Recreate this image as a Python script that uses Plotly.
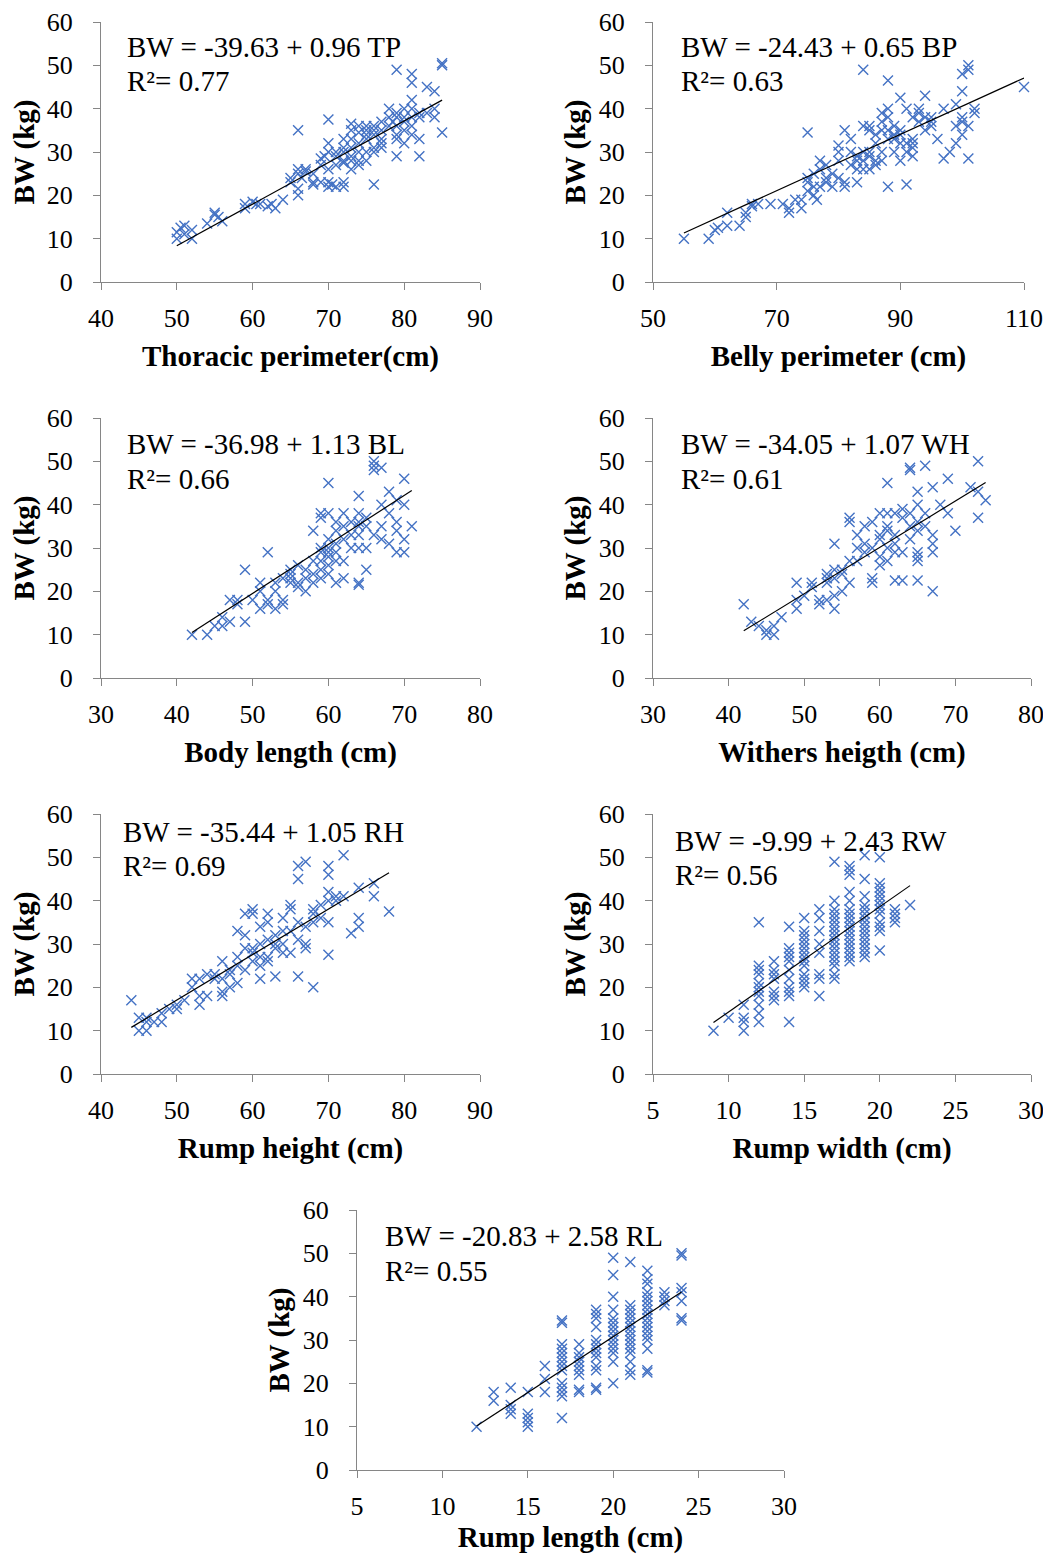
import plotly.graph_objects as go

# ---------------- data ----------------
tp_points = [(50,10),(50,11.5),(50.5,12.5),(51,13),(51,11),(52,12),(52,10),(54,13.5),(55,16),(55,15.5),(55.5,15),(56,14),
    (59,17),(59,18),(60,18.5),(60.5,18),(61,18),(62,17.5),(62.5,18),(63,17),(64,19),(65,23),(65,24),(66,20),(66,21.5),(66,25),
    (66,26),(66,35),(66.5,24),(67,25.5),(67,26),(68,22.5),(68,23),(68,25),(69,23),(69,27),(69,28.5),(69.5,29),(70,22),(70,23),
    (70,26),(70,30),(70,32),(70,37.5),(70.5,22.5),(71,22),(71,27),(71,29),(71,30),(72,22),(72,23),(72,27.5),(72,28),(72,30),
    (72,31),(72,33),(73,26),(73,28),(73,29),(73,31),(73,33),(73,35),(73,36.5),(74,27),(74,28),(74,30),(74,32),(74,34.5),(74,36),
    (75,28),(75,30),(75,33),(75,34),(75,35),(75,36),(76,22.5),(76,30),(76,31),(76,34),(76,35),(76,36),(77,31),(77,32),(77,33),
    (77,35),(77,37),(78,36),(78,38),(78,40),(78.5,37),(79,29),(79,33),(79,34),(79,36),(79,38),(79,39),(79,49),(80,32),(80,35),
    (80,37),(80,38),(80,40),(81,34),(81,36),(81,38),(81,40),(81,42),(81,46),(81,48),(82,29),(82,33),(82,38),(82,39),(83,39),
    (83,45),(84,38),(84,40),(84,44),(85,34.5),(85,50),(85,50.5)]

bp_points = [(55,10),(59,10),(60,12),(60.5,12.5),(62,16),(62,13),(64,13),(65,15),(65,16),(66,18),(66,17.5),(67,18),(69,18),
    (71,18),(72,17),(72,16),(73,19),(74,17),(74,19),(75,21),(75,23),(75,24),(75,34.5),(76,20),(76,22),(76,25),(76.5,19),(77,26),
    (77,22),(77,28),(78,23),(78,27),(78,24),(79,22),(79,25),(80,24),(80,28),(80,30),(80,31.5),(81,23),(81,22),(81,35),(82,30),
    (82,33),(82,27),(83,26),(83,23),(83,28),(83,29),(84,26),(84,28),(84,30),(84,36),(84,49),(85,26),(85,29),(85,30),(85,36),
    (85,35),(86,28),(86,32),(86,34),(86,27),(87,28),(87,30),(87,35),(87,37),(87,39),(88,22),(88,33),(88,35),(88,38),(88,40),
    (88,46.5),(89,30),(89,33),(89,36),(89,34),(90,28),(90,32),(90,35),(90,34),(90,42.5),(91,40),(91,22.5),(91,30),(91,32),(92,31),
    (92,32),(92,33),(92,38),(92,29),(93,37),(93,39),(93,40),(94,38),(94,35),(94,43),(95,36),(95,38),(95,37),(96,33),(97,40),
    (97,28.5),(98,30),(99,32),(99,36),(99,41),(100,37),(100,38),(100,44),(100,48),(100,34),(101,28.5),(101,50),(101,49),
    (101,36),(102,39),(102,40),(110,45)]

bl_points = [(42,10),(44,10),(45,12),(46,12),(46,14),(47,13),(47,18),(48,18),(48,17),(49,25),(49,13),(50,18),(51,16),(51,22),
    (51,20),(52,18),(52,17),(52,29),(53,16),(53,20),(53,22),(54,17),(54,18),(54,23),(55,22),(55,25),(55,24),(55,23),(56,21),
    (56,22),(56,26),(57,20),(57,23),(57,25),(58,22),(58,24),(58,27),(58,34),(59,23),(59,25),(59,27),(59,29),(59,30),(59,38),
    (59,37),(60,24),(60,26),(60,28),(60,29),(60,30),(60,32),(60,38),(60,45),(61,22),(61,27),(61,29),(61,31),(61,34),(61,36),
    (62,23),(62,27),(62,32),(62,35),(62,38),(63,30),(63,33),(63,36),(64,22),(64,21.5),(64,30),(64,33),(64,35),(64,36),(64,38),
    (64,42),(65,25),(65,30),(65,35),(65,37),(66,33),(66,48),(66,49),(66,50),(67,32),(67,35),(67,40),(67,48.5),(68,31),(68,38),
    (68,43),(69,29),(69,34),(69,36),(69,41),(70,29),(70,32),(70,40),(70,46),(71,35)]

wh_points = [(42,17),(43,13),(44,12),(45,11),(45,10),(46,10),(46,12),(47,14),(49,16),(49,22),(49,18),(50,19),(51,22),(51,21),
    (52,18),(52,17),(53,18),(53,22),(53,23),(53,24),(54,16),(54,19),(54,23),(54,25),(54,31),(55,20),(55,24),(55,25),(56,22),
    (56,27),(56,36),(56,37),(57,27),(57,30),(57,33),(58,29),(58,31),(58,35),(59,22),(59,23),(59,30),(59,36),(60,26),(60,28),
    (60,32),(60,33),(60,38),(61,27),(61,30),(61,34),(61,35),(61,38),(61,45),(62,22.5),(62,29),(62,31),(62,33),(62,38),(63,22.5),
    (63,29),(63,37),(63,39),(64,32),(64,35),(64,38),(64,48),(64,48.5),(65,22.5),(65,27),(65,28),(65,29),(65,34),(65,36),(65,40),
    (65,43),(66,35),(66,38),(66,49),(67,20),(67,29),(67,31),(67,33),(67,44),(68,40),(69,38),(69,46),(70,34),(72,44),(73,37),
    (73,43),(73,50),(74,41)]

rh_points = [(44,17),(45,13),(45,10),(46,10),(46,12),(46,13),(47,12),(48,12),(48,14),(49,15),(50,15),(50,16),(51,17),(52,20),
    (52,22),(53,18),(53,16),(53,22),(54,18),(54,23),(55,22),(55,23),(56,18),(56,19),(56,22),(56,26),(57,20),(57,23),(57,24),
    (58,21),(58,25),(58,27),(58,33),(59,24),(59,29),(59,32),(59,37),(60,26),(60,28),(60,29),(60,37),(60,38),(61,22),(61,25),
    (61,27),(61,30),(61,34),(62,26),(62,27),(62,31),(62,35),(62,37),(63,22.5),(63,29),(63,30),(63,32),(64,28),(64,30),(64,33),
    (64,36),(65,28),(65,33),(65,38),(65,39),(66,22.5),(66,31),(66,35),(66,45),(66,48),(67,29),(67,30),(67,34),(67,49),(68,20),
    (68,35),(68,37),(68,38),(69,36),(69,39),(70,27.5),(70,35),(70,40),(70,42),(70,46),(70,48),(71,40),(71,41),(72,41),(72,50.5),
    (73,32.5),(74,34),(74,36),(74,43),(76,41),(76,44),(78,37.5)]

rw_x = [9, 10, 11, 11, 11, 11,
        12, 12, 12, 12, 12, 12, 12, 12, 12, 12, 12,
        13, 13, 13, 13, 13, 13, 13,
        14, 14, 14, 14, 14, 14, 14, 14, 14, 14, 14,
        15, 15, 15, 15, 15, 15, 15, 15, 15, 15, 15, 15, 15, 15,
        16, 16, 16, 16, 16, 16, 16, 16,
        17, 17, 17, 17, 17, 17, 17, 17, 17, 17, 17, 17, 17, 17, 17, 17, 17, 17,
        18, 18, 18, 18, 18, 18, 18, 18, 18, 18, 18, 18, 18, 18, 18, 18, 18, 18,
        19, 19, 19, 19, 19, 19, 19, 19, 19, 19, 19, 19, 19, 19, 19, 19,
        20, 20, 20, 20, 20, 20, 20, 20, 20, 20, 20, 20, 20,
        21, 21, 21, 21, 22]
rw_bw = [10, 13, 10, 12, 13, 16,
         12, 14, 16, 18, 19, 20, 21, 23, 24, 25, 35,
         17, 18, 19, 22, 23, 24, 26,
         12, 18, 19, 20, 22, 24, 26, 27, 28, 29, 34,
         20, 21, 22, 23, 25, 26, 27, 28, 29, 30, 31, 32, 33, 36,
         18, 22, 23, 28, 30, 33, 36, 38,
         22, 23, 25, 26, 27, 28, 29, 30, 31, 32, 33, 34, 35, 36, 37, 38, 40, 49,
         26, 27, 28, 29, 30, 31, 32, 33, 34, 35, 36, 37, 38, 40, 42, 46, 47, 48,
         27, 28, 29, 30, 31, 32, 33, 34, 35, 36, 37, 38, 39, 41, 45, 50.5,
         28.5, 33, 34, 35, 37, 38, 39, 40, 41, 42, 43, 44, 50,
         35, 36, 37, 38, 39]

rl_x = [12, 13, 13, 14, 14, 14, 14, 15, 15, 15, 15, 15, 16, 16, 16,
        17, 17, 17, 17, 17, 17, 17, 17, 17, 17, 17, 17, 17, 17,
        18, 18, 18, 18, 18, 18, 18, 18, 18,
        19, 19, 19, 19, 19, 19, 19, 19, 19, 19, 19, 19, 19,
        20, 20, 20, 20, 20, 20, 20, 20, 20, 20, 20, 20, 20, 20, 20,
        21, 21, 21, 21, 21, 21, 21, 21, 21, 21, 21, 21, 21, 21, 21, 21,
        22, 22, 22, 22, 22, 22, 22, 22, 22, 22, 22, 22, 22, 22, 22, 22, 22, 22,
        23, 23, 23, 23,
        24, 24, 24, 24, 24, 24, 24]
rl_bw = [10, 16, 18, 13, 14, 15, 19, 10, 11, 12, 13, 18, 18, 21, 24,
         12, 17, 18, 19, 20, 23, 24, 25, 26, 27, 28, 29, 34, 34.5,
         18, 18.5, 22, 23, 24, 25, 26, 27, 29,
         18.5, 19, 23, 24, 26, 27, 28, 29, 30, 33, 35, 36, 37,
         20, 25, 27, 28, 29, 30, 31, 32, 33, 34, 35, 37, 40, 45, 49,
         22, 23, 25, 27, 28, 29, 30, 31, 32, 33, 34, 35, 36, 37, 38, 48,
         22.5, 23, 28, 30, 31, 32, 33, 34, 35, 36, 37, 38, 39, 40, 41, 43, 44, 46,
         38, 39, 40, 41,
         34.5, 35, 39, 41, 42, 49.5, 50]

# regression equations shown on the chart: intercept, slope, R²
intercepts = [-39.63, -24.43, -36.98, -34.05, -35.44, -9.99, -20.83]
slopes = [0.96, 0.65, 1.13, 1.07, 1.05, 2.43, 2.58]
r2_values = [0.77, 0.63, 0.66, 0.61, 0.69, 0.56, 0.55]
abbrevs = ["TP", "BP", "BL", "WH", "RH", "RW", "RL"]
x_titles = ["Thoracic perimeter(cm)", "Belly perimeter (cm)", "Body length (cm)", "Withers heigth (cm)",
            "Rump height (cm)", "Rump width (cm)", "Rump length (cm)"]
x_ranges = [(40, 90), (50, 110), (30, 80), (30, 80), (40, 90), (5, 30), (5, 30)]
x_dticks = [10, 20, 10, 10, 10, 5, 5]
y_range = (0, 60)
y_dtick = 10
y_title = "BW (kg)"

def unzip(pts):
    return [p[0] for p in pts], [p[1] for p in pts]

series = [unzip(tp_points), unzip(bp_points), unzip(bl_points), unzip(wh_points),
          unzip(rh_points), (rw_x, rw_bw), (rl_x, rl_bw)]

# ---------------- layout geometry (page pixels) ----------------
PAGE_W, PAGE_H = 1051, 1562
OFF = 8                       # default body margin of the html page
W, H = PAGE_W - OFF, PAGE_H - 2 * OFF

def px(x):
    return (x - OFF) / W

def py(y):
    return 1 - (y - OFF) / H

# plot boxes in page pixels: (left, right, top, bottom)
boxes = [(101, 480, 22, 282), (653, 1024, 22, 282),
         (101, 480, 418, 678), (653, 1031, 418, 678),
         (101, 480, 814, 1074), (653, 1031, 814, 1074),
         (357, 784, 1210, 1470)]
# annotation anchor: left x, center y of first line, center y of second line
ann_pos = [(125, 47, 81), (679, 47, 81), (125, 444, 479), (679, 444, 479),
           (121, 832, 866), (673, 841, 875), (383, 1236, 1271)]

FONT = "Liberation Serif, Times New Roman, serif"
BLUE = "#4472C4"
AXIS = "#868686"

fig = go.Figure()
layout = dict(width=W, height=H, margin=dict(l=0, r=0, t=0, b=0),
              paper_bgcolor="white", plot_bgcolor="white", showlegend=False,
              font=dict(family=FONT, color="black"))
annotations = []

for i, ((xs, ys), (l, r, t, b)) in enumerate(zip(series, boxes)):
    n = "" if i == 0 else str(i + 1)
    xa, ya = "x" + n, "y" + n
    fig.add_trace(go.Scatter(x=xs, y=ys, mode="markers", xaxis=xa, yaxis=ya,
                             marker=dict(symbol="x-thin", size=10, color=BLUE,
                                         line=dict(width=1.4, color=BLUE)),
                             cliponaxis=False))
    x0, x1 = min(xs), max(xs)
    fig.add_trace(go.Scatter(x=[x0, x1], y=[intercepts[i] + slopes[i] * x0, intercepts[i] + slopes[i] * x1],
                             mode="lines", xaxis=xa, yaxis=ya,
                             line=dict(color="black", width=1.2)))
    common = dict(showgrid=False, zeroline=False, showline=True, linecolor=AXIS, linewidth=1,
                  ticks="outside", ticklen=7, tickcolor=AXIS, tickwidth=1, automargin=False,
                  tickfont=dict(family=FONT, size=26, color="black"))
    layout["xaxis" + n] = dict(common, domain=[px(l), px(r)], anchor=ya,
                               range=list(x_ranges[i]), dtick=x_dticks[i], tick0=x_ranges[i][0],
                               ticklabelstandoff=6,
                               title=dict(text=x_titles[i], standoff=13,
                                          font=dict(family=FONT, size=29, color="black", weight="bold")))
    layout["yaxis" + n] = dict(common, domain=[py(b), py(t)], anchor=xa,
                               range=list(y_range), dtick=y_dtick, tick0=0,
                               ticklabelstandoff=15,
                               title=dict(text=y_title, standoff=4,
                                          font=dict(family=FONT, size=29, color="black", weight="bold")))
    ax, ay1, ay2 = ann_pos[i]
    eq = f"BW = {intercepts[i]:.2f} + {slopes[i]:.2f} {abbrevs[i]}"
    annotations.append(dict(text=eq, x=px(ax), y=py(ay1), xref="paper", yref="paper",
                            xanchor="left", yanchor="middle", showarrow=False,
                            font=dict(family=FONT, size=29, color="black")))
    annotations.append(dict(text=f"R²= {r2_values[i]:.2f}", x=px(ax), y=py(ay2), xref="paper", yref="paper",
                            xanchor="left", yanchor="middle", showarrow=False,
                            font=dict(family=FONT, size=29, color="black")))

layout["annotations"] = annotations
fig.update_layout(**layout)
fig.write_html("out.html")
